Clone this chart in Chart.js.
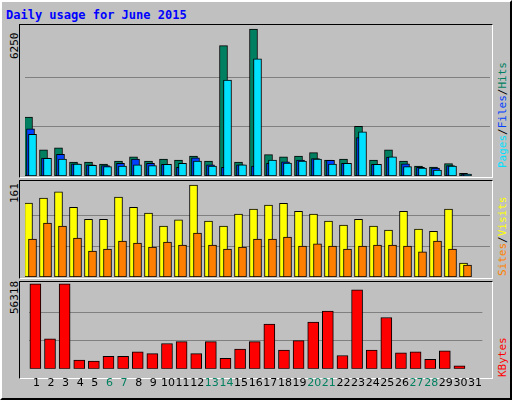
<!DOCTYPE html>
<html><head><meta charset="utf-8">
<script src="https://cdn.jsdelivr.net/npm/chart.js@4"></script>
<style>
body{margin:0;width:512px;height:400px;background:#c0c0c0;position:relative;overflow:hidden;font-family:"DejaVu Sans Mono",monospace}
#frame{position:absolute;left:0;top:0;width:508px;height:396px;border-left:2px solid #fff;border-top:2px solid #fff;border-right:2px solid #000;border-bottom:2px solid #000;box-sizing:content-box}
.panel{position:absolute;left:19px;width:472px;border-top:1px solid #000;border-left:1px solid #000;border-right:1px solid #fff;border-bottom:1px solid #fff}
.cv{position:absolute}
.rot{position:absolute;transform:rotate(-90deg);transform-origin:left top;white-space:nowrap;font-size:11px}
#title{position:absolute;left:6px;top:8px;color:#0000ff;font-weight:bold;font-size:12px}
</style></head><body>
<div id="frame"></div>
<div id="title">Daily usage for June 2015</div>
<div class="panel" style="top:24px;height:152px"></div>
<div class="panel" style="top:180px;height:97px"></div>
<div class="panel" style="top:281px;height:96px"></div>
<div class="rot" style="left:8px;top:59px;color:#000">6250</div>
<div class="rot" style="left:8px;top:203px;color:#000">161</div>
<div class="rot" style="left:8px;top:314px;color:#000">56318</div>
<div class="rot" style="left:496px;top:168px"><span style="color:#00e0ff">Pages</span>/<span style="color:#0040ff">Files</span>/<span style="color:#008060">Hits</span></div>
<div class="rot" style="left:496px;top:276px"><span style="color:#ff8000">Sites</span>/<span style="color:#ffff00">Visits</span></div>
<div class="rot" style="left:496px;top:377px;color:#ff0000">KBytes</div>
<div class="cv" style="left:25px;top:25px;width:465px;height:151px"><canvas id="c1"></canvas></div>
<div class="cv" style="left:25px;top:181px;width:465px;height:96px"><canvas id="c2"></canvas></div>
<div class="cv" style="left:25px;top:282px;width:465px;height:116px"><canvas id="c3"></canvas></div>
<script>
const days = Array.from({length:31},(_,i)=>String(i+1));
const weekend = ['6','7','13','14','20','21','27','28'];
const hits  = [2500,1108,1193,597,597,512,639,810,639,724,682,852,639,5540,597,6250,909,810,852,994,682,724,2116,682,1108,639,426,383,526,114,0];
const files = [2003,760,923,520,470,440,540,724,540,500,370,770,470,370,470,420,540,600,682,740,667,540,1634,500,800,520,370,340,440,80,0];
const pages = [1776,753,724,511,454,398,426,470,440,497,540,639,426,4077,470,4986,682,554,639,724,511,540,1875,497,810,398,340,256,426,85,0];
const visits= [129.5,138,149,122,101,101,140,122,112,89,100,161,98,89,110,119,126,129,115,110,98,91,101,89,82,115,84,80,119,24.5,0];
const sites = [66.5,94.5,89,68,45.5,49,63,59.5,52.5,61,56,77,56,49,52.5,66.5,66.5,70,54,58,54,49,54,56,56,54,44,63,49,21,0];
const kbytes= [56318,19865,56318,5734,5120,8192,8192,11264,10035,16793,18022,10035,18022,6963,13107,18022,29695,12492,18636,30924,38296,8806,52427,12492,33996,10649,11264,6349,11878,2048,0];

const shiftPlugin={id:'shift',
 beforeDatasetDraw(c,a){const s=c.data.datasets[a.index].shift||0;c.ctx.save();c.ctx.translate(s,0);},
 afterDatasetDraw(c){c.ctx.restore();}};
Chart.register(shiftPlugin);

function mk(id,datasets,top,thirds,showX){
 return new Chart(document.getElementById(id),{type:'bar',
  data:{labels:days,datasets},
  options:{responsive:true,maintainAspectRatio:false,animation:false,
   layout:{padding:0},
   plugins:{legend:{display:false},tooltip:{enabled:false}},
   datasets:{bar:{grouped:false,borderColor:'#000',borderWidth:1,borderSkipped:false}},
   scales:{
    x:{display:showX,offset:true,grid:{display:false,drawTicks:false},border:{display:false},
       ticks:{padding:8,maxRotation:0,autoSkip:false,font:{family:'DejaVu Sans',size:11},
       color:ctx=>weekend.includes(days[ctx.index])?'#008060':'#000'}},
    y:{display:true,min:0,max:top,position:'left',border:{display:false},
       ticks:{display:false},grid:{color:'#808080',drawTicks:false,lineWidth:1},
       afterBuildTicks:ax=>{ax.ticks=[{value:thirds},{value:thirds*2}];}}
   }}});
}
mk('c1',[
 {data:pages,backgroundColor:'#00e0ff',barThickness:8,order:0,shift:0},
 {data:files,backgroundColor:'#0040ff',barThickness:8,order:1,shift:-2},
 {data:hits,backgroundColor:'#008060',barThickness:8,order:2,shift:-4}],6420,6250/3,false);
mk('c2',[
 {data:sites,backgroundColor:'#ff8000',barThickness:8,order:0,shift:0},
 {data:visits,backgroundColor:'#ffff00',barThickness:8,order:1,shift:-4}],168,161/3,false);
mk('c3',[
 {data:kbytes,backgroundColor:'#ff0000',barThickness:11,order:0,shift:-1}],57550,56318/3,true);
</script>
</body></html>
